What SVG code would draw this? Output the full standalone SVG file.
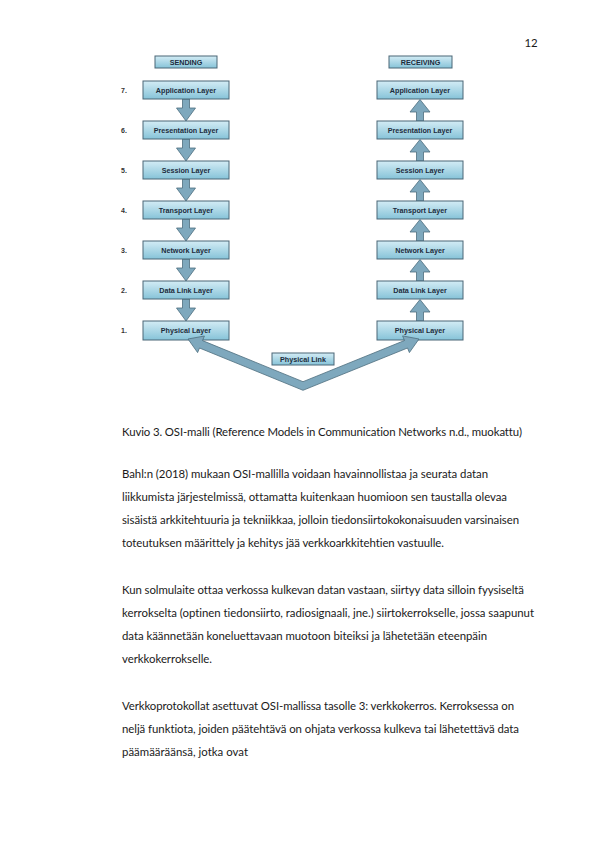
<svg xmlns="http://www.w3.org/2000/svg" width="595" height="841" viewBox="0 0 595 841">
<defs>
<linearGradient id="g" x1="0" y1="0" x2="0" y2="1">
<stop offset="0" stop-color="#d3ecf5"/>
<stop offset="1" stop-color="#86c3d8"/>
</linearGradient>
<style>
.box{fill:url(#g);stroke:#4a6676;stroke-width:1}
.lbl{font-family:"Liberation Sans",Arial,sans-serif;font-weight:bold;font-size:7.2px;fill:#1c2c3c;text-anchor:middle}
.num{font-family:"Liberation Sans",Arial,sans-serif;font-weight:bold;font-size:7px;fill:#333}
.arr{fill:#7ea8bd;stroke:#4d6d7e;stroke-width:0.8;stroke-linejoin:miter}
.body{font-family:Lato,"Liberation Sans",sans-serif;font-size:11.4px;fill:#1a1a1a;font-variant-ligatures:none}
</style>
</defs>
<rect width="595" height="841" fill="#fff"/>
<text class="body" x="531" y="47" text-anchor="middle">12</text>

<g id="connectors">
<polygon class="arr" points="182.5,99 189.5,99 189.5,108 195.5,108 186,121 176.5,108 182.5,108"/>
<polygon class="arr" points="182.5,139 189.5,139 189.5,148 195.5,148 186,161 176.5,148 182.5,148"/>
<polygon class="arr" points="182.5,179 189.5,179 189.5,188 195.5,188 186,201 176.5,188 182.5,188"/>
<polygon class="arr" points="182.5,219 189.5,219 189.5,228 195.5,228 186,241 176.5,228 182.5,228"/>
<polygon class="arr" points="182.5,259 189.5,259 189.5,268 195.5,268 186,281 176.5,268 182.5,268"/>
<polygon class="arr" points="182.5,299 189.5,299 189.5,308 195.5,308 186,321 176.5,308 182.5,308"/>
<polygon class="arr" points="416.5,121 423.5,121 423.5,112 430,112 420,99.5 410,112 416.5,112"/>
<polygon class="arr" points="416.5,161 423.5,161 423.5,152 430,152 420,139.5 410,152 416.5,152"/>
<polygon class="arr" points="416.5,201 423.5,201 423.5,192 430,192 420,179.5 410,192 416.5,192"/>
<polygon class="arr" points="416.5,241 423.5,241 423.5,232 430,232 420,219.5 410,232 416.5,232"/>
<polygon class="arr" points="416.5,281 423.5,281 423.5,272 430,272 420,259.5 410,272 416.5,272"/>
<polygon class="arr" points="416.5,321 423.5,321 423.5,312 430,312 420,299.5 410,312 416.5,312"/>
</g>

<g id="sending"><rect class="box" x="155" y="56" width="62" height="12"/><text class="lbl" x="186" y="64.6">SENDING</text></g>
<g id="receiving"><rect class="box" x="389" y="56" width="63" height="12"/><text class="lbl" x="420.5" y="64.6">RECEIVING</text></g>

<g id="labels-num">
<text class="num" x="121" y="92.6">7.</text>
<text class="num" x="121" y="132.6">6.</text>
<text class="num" x="121" y="172.6">5.</text>
<text class="num" x="121" y="212.6">4.</text>
<text class="num" x="121" y="252.6">3.</text>
<text class="num" x="121" y="292.6">2.</text>
<text class="num" x="121" y="332.6">1.</text>
</g>

<g id="s7"><rect class="box" x="143" y="81" width="86" height="18"/><text class="lbl" x="186" y="92.6">Application Layer</text></g>
<g id="s6"><rect class="box" x="143" y="121" width="86" height="18"/><text class="lbl" x="186" y="132.6">Presentation Layer</text></g>
<g id="s5"><rect class="box" x="143" y="161" width="86" height="18"/><text class="lbl" x="186" y="172.6">Session Layer</text></g>
<g id="s4"><rect class="box" x="143" y="201" width="86" height="18"/><text class="lbl" x="186" y="212.6">Transport Layer</text></g>
<g id="s3"><rect class="box" x="143" y="241" width="86" height="18"/><text class="lbl" x="186" y="252.6">Network Layer</text></g>
<g id="s2"><rect class="box" x="143" y="281" width="86" height="18"/><text class="lbl" x="186" y="292.6">Data Link Layer</text></g>
<g id="s1"><rect class="box" x="143" y="321" width="86" height="19"/><text class="lbl" x="186" y="333">Physical Layer</text></g>

<g id="r7"><rect class="box" x="377" y="81" width="86" height="18"/><text class="lbl" x="420" y="92.6">Application Layer</text></g>
<g id="r6"><rect class="box" x="377" y="121" width="86" height="18"/><text class="lbl" x="420" y="132.6">Presentation Layer</text></g>
<g id="r5"><rect class="box" x="377" y="161" width="86" height="18"/><text class="lbl" x="420" y="172.6">Session Layer</text></g>
<g id="r4"><rect class="box" x="377" y="201" width="86" height="18"/><text class="lbl" x="420" y="212.6">Transport Layer</text></g>
<g id="r3"><rect class="box" x="377" y="241" width="86" height="18"/><text class="lbl" x="420" y="252.6">Network Layer</text></g>
<g id="r2"><rect class="box" x="377" y="281" width="86" height="18"/><text class="lbl" x="420" y="292.6">Data Link Layer</text></g>
<g id="r1"><rect class="box" x="377" y="321" width="86" height="19"/><text class="lbl" x="420" y="333">Physical Layer</text></g>

<g id="physical-link"><rect class="box" x="272" y="353" width="62" height="12"/><text class="lbl" x="303" y="361.6">Physical Link</text></g>

<g id="link-arrow">
<polygon class="arr" points="188,339 197.6,352.6 199.5,348 303,390.3 407.5,348 409.4,352.6 419,339 402.6,335.9 404.5,340.5 303,381.7 202.5,340.6 204.4,336"/>
</g>

<g id="text">
<text class="body" x="122" y="436" textLength="400" lengthAdjust="spacing">Kuvio 3. OSI-malli (Reference Models in Communication Networks n.d., muokattu)</text>
<text class="body" x="122" y="478" textLength="366" lengthAdjust="spacing">Bahl:n (2018) mukaan OSI-mallilla voidaan havainnollistaa ja seurata datan</text>
<text class="body" x="122" y="501" textLength="385" lengthAdjust="spacing">liikkumista järjestelmissä, ottamatta kuitenkaan huomioon sen taustalla olevaa</text>
<text class="body" x="122" y="524" textLength="397" lengthAdjust="spacing">sisäistä arkkitehtuuria ja tekniikkaa, jolloin tiedonsiirtokokonaisuuden varsinaisen</text>
<text class="body" x="122" y="547" textLength="322" lengthAdjust="spacing">toteutuksen määrittely ja kehitys jää verkkoarkkitehtien vastuulle.</text>
<text class="body" x="122" y="594" textLength="402" lengthAdjust="spacing">Kun solmulaite ottaa verkossa kulkevan datan vastaan, siirtyy data silloin fyysiseltä</text>
<text class="body" x="122" y="617" textLength="412" lengthAdjust="spacing">kerrokselta (optinen tiedonsiirto, radiosignaali, jne.) siirtokerrokselle, jossa saapunut</text>
<text class="body" x="122" y="640" textLength="365" lengthAdjust="spacing">data käännetään koneluettavaan muotoon biteiksi ja lähetetään eteenpäin</text>
<text class="body" x="122" y="663" textLength="90" lengthAdjust="spacing">verkkokerrokselle.</text>
<text class="body" x="122" y="710" textLength="392" lengthAdjust="spacing">Verkkoprotokollat asettuvat OSI-mallissa tasolle 3: verkkokerros. Kerroksessa on</text>
<text class="body" x="122" y="733" textLength="397" lengthAdjust="spacing">neljä funktiota, joiden päätehtävä on ohjata verkossa kulkeva tai lähetettävä data</text>
<text class="body" x="122" y="756" textLength="126" lengthAdjust="spacing">päämääräänsä, jotka ovat</text>
</g>
</svg>
